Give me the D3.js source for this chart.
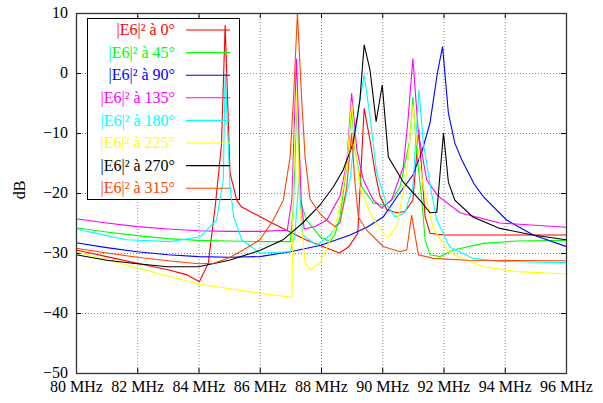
<!DOCTYPE html>
<html><head><meta charset="utf-8">
<script src="https://cdn.jsdelivr.net/npm/d3@7"></script>
<style>body{margin:0;background:#fff}svg{display:block}text{font-family:"Liberation Serif","DejaVu Serif",serif}</style>
</head><body>
<svg id="chart" width="603" height="403"></svg>
<script>
const xTicks = [80,82,84,86,88,90,92,94,96];
const yTicks = [-50,-40,-30,-20,-10,0,10];
const seriesNames = ["|E6|² à 0°","|E6|² à 45°","|E6|² à 90°","|E6|² à 135°","|E6|² à 180°","|E6|² à 225°","|E6|² à 270°","|E6|² à 315°"];
const seriesColors = ["#ff0000","#00ff00","#0000ff","#ff00ff","#00ffff","#ffff00","#000000","#ff4500"];

const e0 = [[80,-29.5],[81,-30.6],[82,-31.7],[83,-32.8],[83.6,-33.6],[84.03,-34.8],[84.32,-31.7],[84.55,-22],[84.75,-12],[84.87,8],[85.03,-16.7],[85.25,-21.2],[85.4,-22.3],[86.4,-25],[87.5,-27.8],[88.6,-30],[88.9,-29],[89.2,-26.7],[89.41,-5.9],[89.6,-11.2],[89.77,-16.7],[89.93,-20.6],[90.15,-22.8],[90.47,-23.3],[90.74,-23.1],[91.0,-21.2],[91.19,-9.5],[91.4,-24],[91.56,-26.7],[92,-27],[96,-27]];
const e45 = [[80,-25.8],[81,-26.5],[82,-27.1],[83,-27.6],[84,-27.9],[85,-28],[86,-28.1],[87,-28.1],[87.1,-22],[87.22,-4],[87.31,-21.2],[87.53,-24.5],[87.97,-27.3],[88.29,-28.1],[88.45,-27],[88.62,-24],[88.84,-15.6],[89.0,-6.2],[89.11,-12.8],[89.33,-19],[89.71,-21.7],[90.1,-22],[90.35,-21],[90.58,-19],[90.9,-11.2],[91.0,-4],[91.12,-12.8],[91.29,-21.2],[91.4,-27.8],[91.56,-30.3],[91.89,-30.6],[92.32,-29.5],[93.3,-28.4],[94.4,-28],[96,-27.9]];
const e90 = [[80,-28.3],[81,-29.1],[82,-29.8],[83,-30.3],[84,-30.6],[85,-30.7],[86,-30.6],[87,-29.8],[88,-28.7],[88.95,-27],[89.5,-25.7],[90.03,-24],[90.5,-20.5],[91.0,-17],[91.3,-13],[91.56,-8.3],[91.8,0],[91.97,4.4],[92.16,-6.7],[92.37,-11.7],[92.6,-14.5],[93.0,-18.5],[93.3,-20.6],[94.06,-24.5],[94.93,-27],[96,-28.9]];
const e135 = [[80,-24.3],[81,-25],[82,-25.6],[83,-26],[84,-26.3],[85,-26.4],[86,-26.4],[86.9,-26.2],[87.05,-21],[87.2,2.4],[87.35,-21],[87.45,-26],[87.8,-25.6],[88.19,-24.5],[88.62,-20.5],[88.84,-15],[89.0,-3.4],[89.17,-12.8],[89.38,-17.8],[89.71,-21.2],[89.98,-22.5],[90.3,-21.2],[90.69,-15.6],[90.85,-7.3],[91.0,2.4],[91.18,-10],[91.45,-17.8],[91.8,-20.4],[92.54,-23.3],[93.84,-25],[96,-25.7]];
const e180 = [[80,-26],[81,-27.1],[81.65,-27.8],[83.07,-28.1],[84.05,-27.3],[84.59,-24.5],[84.81,-17.8],[84.87,0],[85.03,-19],[85.15,-24],[85.41,-27.8],[86,-30],[87,-29.8],[87.15,-27],[87.27,-18],[87.4,-27],[87.86,-28.7],[88.3,-27],[88.62,-24.5],[88.95,-17.8],[89.05,-12.8],[89.27,-4.5],[89.41,-0.3],[89.6,-7.3],[89.82,-16.7],[90.15,-22],[90.42,-24],[90.74,-23.3],[91.0,-19],[91.2,-2.8],[91.34,-11.7],[91.61,-20],[91.78,-24.5],[92.2,-29],[92.97,-30.9],[93.84,-31.4],[96,-31.6]];
const e225 = [[80,-29.8],[81.65,-32],[84.03,-35.2],[85.36,-36.2],[86,-36.7],[87.05,-37.4],[87.1,-18],[87.2,-3],[87.3,-22],[87.48,-31.7],[87.64,-32.8],[87.97,-31.7],[88.4,-26.7],[88.62,-22.3],[88.85,-15],[89.0,-4.8],[89.1,-11.7],[89.27,-19],[89.6,-23.3],[90.03,-26.7],[90.2,-27.4],[90.47,-25.6],[90.8,-16.7],[91.0,-5.3],[91.12,-11.2],[91.34,-19],[91.67,-26],[92.2,-30],[93.3,-32.3],[94.4,-33.1],[96,-33.5]];
const e270 = [[80,-30.3],[81,-31.2],[82,-31.8],[83,-32.3],[84,-32.3],[85,-31.2],[86,-29.6],[86.76,-27.8],[87.4,-25],[87.97,-22],[88.4,-19],[88.72,-16.2],[89.05,-11.7],[89.27,-4.5],[89.41,4.7],[89.6,0.5],[89.8,-8.1],[90.0,-2],[90.2,-14],[90.69,-18.2],[91.23,-21.2],[91.56,-23.3],[91.78,-23.2],[92.0,-10],[92.16,-18.2],[92.37,-21.2],[92.96,-24],[93.84,-25.9],[94.92,-27],[96,-27.8]];
const e315 = [[80,-29.2],[81,-30],[82,-30.7],[83,-31.3],[84,-31.8],[84.5,-31.7],[85,-30.8],[85.46,-29.5],[86,-27.8],[86.44,-24.5],[86.77,-21.2],[86.99,-14],[87.1,-4.5],[87.23,10],[87.37,-4.5],[87.48,-14],[87.64,-21],[87.97,-23.5],[88.3,-25],[88.46,-25.6],[88.62,-25],[88.84,-19],[89.0,-10],[89.1,-17.8],[89.22,-24],[89.49,-26.2],[90.03,-28.9],[90.58,-29.8],[90.8,-29.5],[90.96,-23.7],[91.18,-30.3],[91.67,-30.9],[92.76,-31.2],[96,-31.3]];
const seriesData = [e0,e45,e90,e135,e180,e225,e270,e315];

const svg = d3.select("#chart");
const L=76, R=566, T=13, B=373;
const x = d3.scaleLinear().domain([80,96]).range([L,R]);
const y = d3.scaleLinear().domain([-50,10]).range([B,T]);

// grid
const grid = svg.append("g").attr("stroke","#888").attr("stroke-dasharray","1,2").attr("stroke-width",1);
xTicks.slice(1,-1).forEach(v=>grid.append("line").attr("x1",x(v)+0.5).attr("x2",x(v)+0.5).attr("y1",T).attr("y2",B));
yTicks.slice(1,-1).forEach(v=>grid.append("line").attr("y1",y(v)+0.5).attr("y2",y(v)+0.5).attr("x1",L).attr("x2",R));

// axes
const fmtX = d => d + " MHz";
const ax = svg.append("g").attr("transform",`translate(0,${B})`).call(d3.axisBottom(x).tickValues(xTicks).tickFormat(fmtX).tickSizeInner(-5).tickSizeOuter(0).tickPadding(8));
const axT = svg.append("g").attr("transform",`translate(0,${T})`).call(d3.axisTop(x).tickValues(xTicks).tickFormat("").tickSizeInner(-5).tickSizeOuter(0));
const ay = svg.append("g").attr("transform",`translate(${L},0)`).call(d3.axisLeft(y).tickValues(yTicks).tickFormat(d=>d<0?"\u2212"+(-d):String(d)).tickSizeInner(-5).tickSizeOuter(0).tickPadding(8));
const ayR = svg.append("g").attr("transform",`translate(${R},0)`).call(d3.axisRight(y).tickValues(yTicks).tickFormat("").tickSizeInner(-5).tickSizeOuter(0));
[ax,axT,ay,ayR].forEach(g=>{g.select(".domain").remove();g.selectAll("text").attr("font-size",16).attr("fill","#000").attr("font-family","Liberation Serif, serif");g.selectAll("line").attr("stroke","#000");});
ay.selectAll("text").attr("dy","0.3em");

// legend box
const lg = {x:87,y:18,w:152,h:181};
svg.append("rect").attr("x",lg.x+0.5).attr("y",lg.y+0.5).attr("width",lg.w).attr("height",lg.h).attr("fill","#fff").attr("stroke","#000").attr("stroke-width",1);

// data lines
const line = d3.line().x(d=>x(d[0])).y(d=>y(d[1]));
const clip = svg.append("clipPath").attr("id","clip").append("rect").attr("x",L).attr("y",T).attr("width",R-L).attr("height",B-T);
seriesData.forEach((s,i)=>{
  svg.append("path").datum(s).attr("d",line).attr("fill","none").attr("stroke",seriesColors[i]).attr("stroke-width",1.1).attr("clip-path","url(#clip)");
});

// legend entries
seriesNames.forEach((n,i)=>{
  const yy = 29.5 + i*22.6;
  svg.append("text").attr("x",175).attr("y",yy).attr("dy","0.35em").attr("text-anchor","end").attr("font-size",16).attr("fill",seriesColors[i]).text(n);
  svg.append("line").attr("x1",186).attr("x2",230).attr("y1",yy+0.5).attr("y2",yy+0.5).attr("stroke",seriesColors[i]).attr("stroke-width",1.1);
});

// frame
svg.append("rect").attr("x",L+0.5).attr("y",T+0.5).attr("width",R-L).attr("height",B-T).attr("fill","none").attr("stroke","#333").attr("stroke-width",1.3);

// y label
svg.append("text").attr("transform","translate(19,190) rotate(-90)").attr("text-anchor","middle").attr("dy","0.35em").attr("font-size",16).text("dB");
</script>
</body></html>
